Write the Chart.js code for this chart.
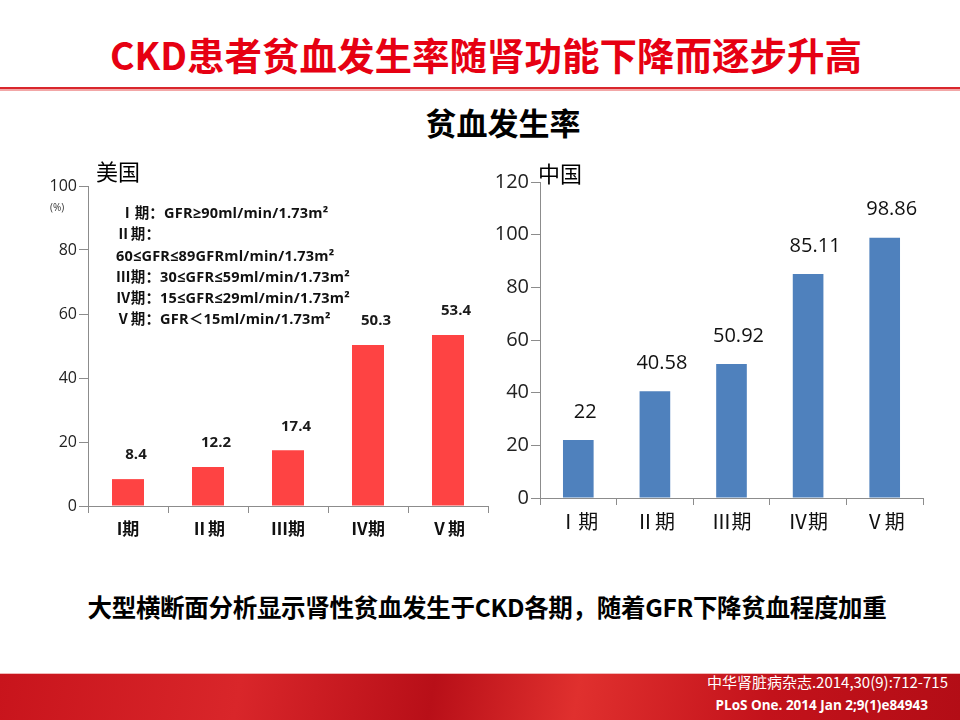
<!DOCTYPE html>
<html>
<head>
<meta charset="utf-8">
<script src="https://cdn.jsdelivr.net/npm/chart.js@4/dist/chart.umd.min.js"></script>
<style>
  body { margin: 0; width: 960px; height: 720px; background: #fff; position: relative; overflow: hidden;
         font-family: "Open Sans", "Noto Sans CJK SC", sans-serif; }
  .abs { position: absolute; white-space: nowrap; }
  #title { left: 0; width: 972px; top: 26px; text-align: center; font-size: 37.5px; font-weight: 700; color: #e60012;
           font-family: "Noto Sans CJK SC", sans-serif; }
  #rule1 { left: 0; top: 87px; width: 960px; height: 2px; background: #d9262c; }
  #rule2 { left: 0; top: 89px; width: 960px; height: 2px; background: #f2a7a7; }
  #subtitle { left: 0; width: 1006px; top: 99px; text-align: center; font-size: 31px; font-weight: 700; color: #000;
              font-family: "Noto Sans CJK SC", sans-serif; }
  #usName { left: 96px; top: 154px; font-size: 22px; color: #000; font-family: "Noto Sans CJK SC", sans-serif; }
  #cnName { left: 538px; top: 156px; font-size: 22px; color: #000; font-family: "Noto Sans CJK SC", sans-serif; }
  #pct { left: 50px; top: 200px; font-size: 10px; color: #333; }
  #notes { left: 116px; top: 202px; font-size: 14.5px; font-weight: 700; line-height: 21.3px; color: #111; letter-spacing: 0.2px; }
  #bottomText { left: 0; width: 974px; top: 589px; text-align: center; font-size: 24.5px; font-weight: 700; color: #000; letter-spacing: -0.3px;
                font-family: "Noto Sans CJK SC", sans-serif; }
  #band { left: 0; top: 673px; width: 960px; height: 47px;
          background: linear-gradient(100deg, #c8141c 0%, #d9262a 25%, #b80f18 45%, #e0302e 60%, #c3121b 80%, #b30d16 100%);
          border-top: 1px solid #f1b9b9; }
  #cite1 { right: 12px; top: 671px; font-size: 15px; color: #fff; font-family: "Noto Sans CJK SC", sans-serif; }
  #cite2 { right: 32px; top: 696px; font-size: 13.5px; font-weight: 700; color: #fff; }
  canvas { position: absolute; }
</style>
</head>
<body>
<div class="abs" id="title">CKD患者贫血发生率随肾功能下降而逐步升高</div>
<div class="abs" id="rule1"></div>
<div class="abs" id="rule2"></div>
<div class="abs" id="subtitle">贫血发生率</div>

<canvas id="usChart" width="480" height="410" style="left:20px; top:150px;"></canvas>
<canvas id="cnChart" width="480" height="410" style="left:480px; top:150px;"></canvas>

<div class="abs" id="usName">美国</div>
<div class="abs" id="cnName">中国</div>
<div class="abs" id="pct">(%)</div>
<div class="abs" id="notes">&nbsp;Ⅰ期：GFR≥90ml/min/1.73m²<br>Ⅱ期：<br>60≤GFR≤89GFRml/min/1.73m²<br>Ⅲ期：30≤GFR≤59ml/min/1.73m²<br>Ⅳ期：15≤GFR≤29ml/min/1.73m²<br>Ⅴ期：GFR＜15ml/min/1.73m²</div>

<div class="abs" id="bottomText">大型横断面分析显示肾性贫血发生于CKD各期，随着GFR下降贫血程度加重</div>
<div class="abs" id="band"></div>
<div class="abs" id="cite1">中华肾脏病杂志.2014,30(9):712-715</div>
<div class="abs" id="cite2">PLoS One. 2014 Jan 2;9(1)e84943</div>

<script>
'use strict';

// chart data
let usStages = ['I期', 'Ⅱ期', 'Ⅲ期', 'Ⅳ期', 'Ⅴ期'];
let cnStages = ['Ⅰ期', 'Ⅱ期', 'Ⅲ期', 'Ⅳ期', 'Ⅴ期'];
let usRates = [8.4, 12.2, 17.4, 50.3, 53.4];
let cnRates = [22, 40.58, 50.92, 85.11, 98.86];
let usAxisMax = 100;
let cnAxisMax = 120;
let axisStep = 20;

// writes the value above each bar
let valueLabels = {
  id: 'valueLabels',
  afterDatasetsDraw(chart, args, opts) {
    let ctx = chart.ctx;
    let meta = chart.getDatasetMeta(0);
    let values = chart.data.datasets[0].data;
    ctx.save();
    ctx.font = opts.font;
    ctx.fillStyle = opts.color;
    ctx.textAlign = 'center';
    ctx.textBaseline = 'middle';
    for (let i = 0; i < meta.data.length; i++) {
      let bar = meta.data[i];
      ctx.fillText(String(values[i]), bar.x + opts.dx, bar.y - opts.offset);
    }
    ctx.restore();
  }
};

function makeChart(canvasId, labels, values, color, opt) {
  let chartObj = {
    type: 'bar',
    data: {
      labels: labels,
      datasets: [{
        data: values,
        backgroundColor: color,
        borderWidth: 0,
        barPercentage: 0.8,
        categoryPercentage: 0.5
      }]
    },
    options: {
      responsive: false,
      animation: false,
      layout: { padding: opt.padding },
      plugins: {
        legend: { display: false },
        tooltip: { enabled: false },
        valueLabels: opt.labels
      },
      scales: {
        x: {
          afterFit: s => { s.height = opt.xHeight; },
          grid: { drawOnChartArea: false, tickLength: 7, color: '#8c8c8c' },
          border: { color: '#8c8c8c' },
          ticks: { color: '#111', padding: opt.xPad, font: opt.xFont }
        },
        y: {
          min: 0,
          max: opt.max,
          afterFit: s => { s.width = opt.yWidth; },
          grid: { drawOnChartArea: false, tickLength: 9, color: '#8c8c8c' },
          border: { color: '#8c8c8c' },
          ticks: { stepSize: axisStep, color: '#222', padding: 2, font: opt.yFont }
        }
      }
    },
    plugins: [valueLabels]
  };
  return new Chart(document.getElementById(canvasId), chartObj);
}

let fam = '"Open Sans", "Noto Sans CJK SC", sans-serif';
let cjk = '"Noto Sans CJK SC", sans-serif';

makeChart('usChart', usStages, usRates, '#fe4343', {
  max: usAxisMax,
  padding: { top: 36, right: 12, left: 0, bottom: 0 },
  yWidth: 68,
  xHeight: 54,
  xPad: 5,
  xFont: { family: cjk, size: 17, weight: 'bold' },
  yFont: { family: fam, size: 16 },
  labels: { font: 'bold 15px ' + fam, color: '#1a1a1a', dx: 8, offset: 24 }
});

makeChart('cnChart', cnStages, cnRates, '#4f81bd', {
  max: cnAxisMax,
  padding: { top: 32, right: 37, left: 0, bottom: 0 },
  yWidth: 60,
  xHeight: 62,
  xPad: 4,
  xFont: { family: cjk, size: 20 },
  yFont: { family: fam, size: 20 },
  labels: { font: '20px ' + fam, color: '#111', dx: 7, offset: 28 }
});
</script>
</body>
</html>
